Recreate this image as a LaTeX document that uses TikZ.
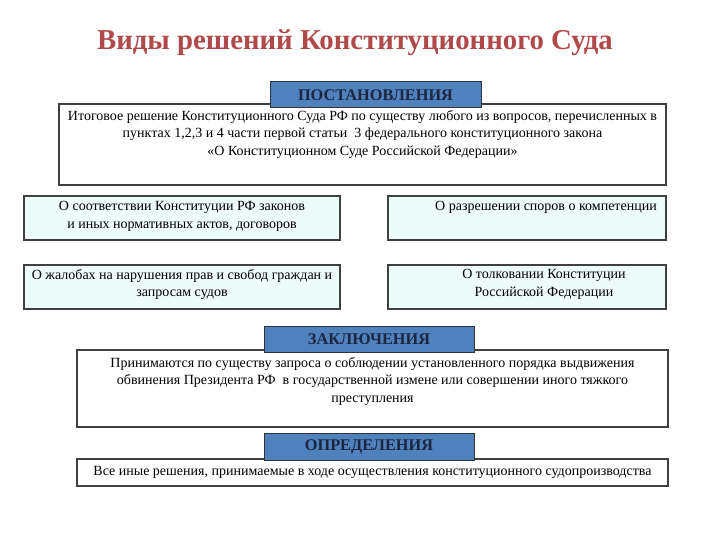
\documentclass[tikz,border=0pt]{standalone}
\usepackage{fontspec}
\setmainfont{Liberation Serif}
\usetikzlibrary{positioning}

\definecolor{titlered}{HTML}{B04A4A}
\definecolor{headblue}{HTML}{4F81BD}
\definecolor{headtext}{HTML}{1C2640}
\definecolor{lightcyan}{HTML}{EDFBFB}
\definecolor{boxgray}{HTML}{404040}

\tikzset{
  headbox/.style={draw=black!80, line width=1pt, fill=headblue, text=headtext,
    font=\fontsize{16.3}{18}\selectfont\bfseries, minimum width=211pt, minimum height=26pt, inner sep=0pt},
  mainbox/.style={draw=boxgray, line width=1.5pt, fill=white, inner sep=0pt},
  sidebox/.style={draw=boxgray, line width=1.2pt, fill=lightcyan, inner sep=0pt, minimum height=44pt},
  boxtext/.style={align=center, font=\fontsize{14}{17.3}\selectfont, inner sep=0pt},
}

\begin{document}
\begin{tikzpicture}[x=1pt,y=-1pt]
  \useasboundingbox (0,0) rectangle (720,540);

  % Заголовок
  \node[text=titlered, font=\fontsize{28.8}{32}\selectfont\bfseries] (title) at (355,43) {Виды решений Конституционного Суда};

  % Постановления
  \node[mainbox, minimum width=607pt, minimum height=81pt] (postbox) at (362.5,144.5) {};
  \node[boxtext, below=7pt of postbox.north] (posttext) {Итоговое решение Конституционного Суда РФ по существу любого из вопросов, перечисленных в\\
    пунктах 1,2,3 и 4 части первой статьи\ \ 3 федерального конституционного закона\\
    «О Конституционном Суде Российской Федерации»};
  \node[headbox] (post) at (375.5,95) {ПОСТАНОВЛЕНИЯ};

  % Виды постановлений
  \node[sidebox, minimum width=316pt] (sootv) at (182,218) {};
  \node[boxtext, below=6pt of sootv.north] (sootvtext) {О соответствии Конституции РФ законов\\ и иных нормативных актов, договоров};
  \node[sidebox, minimum width=278pt] (spory) at (527,218) {};
  \node[boxtext, below=6pt of spory.north, xshift=19pt] (sporytext) {О разрешении споров о компетенции};
  \node[sidebox, minimum width=316pt] (zhaloby) at (182,287) {};
  \node[boxtext, below=5pt of zhaloby.north] (zhalobytext) {О жалобах на нарушения прав и свобод граждан и\\ запросам судов};
  \node[sidebox, minimum width=278pt] (tolk) at (527,287) {};
  \node[boxtext, below=5pt of tolk.north, xshift=17pt] (tolktext) {О толковании Конституции\\ Российской Федерации};

  % Заключения
  \node[mainbox, minimum width=591pt, minimum height=77pt] (zaklbox) at (372.5,388.5) {};
  \node[boxtext, below=8pt of zaklbox.north] (zakltext) {Принимаются по существу запроса о соблюдении установленного порядка выдвижения\\
    обвинения Президента РФ\ \ в государственной измене или совершении иного тяжкого\\
    преступления};
  \node[headbox, minimum width=210pt] (zakl) at (369,339) {ЗАКЛЮЧЕНИЯ};

  % Определения
  \node[mainbox, minimum width=591pt, minimum height=27pt] (opredbox) at (372.5,472.5) {};
  \node[boxtext] (opredtext) at (372.5,472) {Все иные решения, принимаемые в ходе осуществления конституционного судопроизводства};
  \node[headbox, minimum width=210pt, minimum height=27pt] (opred) at (369,446.5) {ОПРЕДЕЛЕНИЯ};
\end{tikzpicture}
\end{document}
